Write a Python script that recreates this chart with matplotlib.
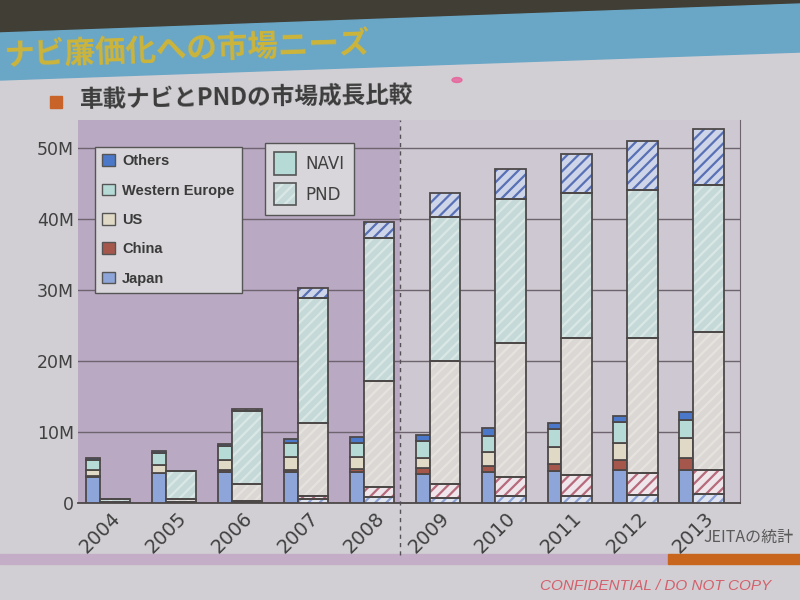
import matplotlib
matplotlib.use("Agg")
import matplotlib.pyplot as plt
import numpy as np
from matplotlib.patches import Patch, Polygon, Rectangle, Ellipse
from matplotlib.legend_handler import HandlerTuple

plt.rcParams['font.family'] = ['DejaVu Sans', 'Noto Sans CJK JP']
plt.rcParams['hatch.linewidth'] = 1.6

years = ['2004', '2005', '2006', '2007', '2008', '2009', '2010', '2011', '2012', '2013']
regions = ['Japan', 'China', 'US', 'Western Europe', 'Others']

# car navigation units (M)
navi_japan = [3.7, 4.2, 4.4, 4.4, 4.4, 4.1, 4.4, 4.5, 4.6, 4.6]
navi_china = [0.1, 0.1, 0.2, 0.3, 0.4, 0.8, 0.85, 1.0, 1.4, 1.7]
navi_us = [0.8, 1.0, 1.5, 1.8, 1.7, 1.5, 2.0, 2.4, 2.4, 2.9]
navi_we = [1.5, 1.7, 1.9, 2.0, 2.0, 2.4, 2.25, 2.5, 3.0, 2.5]
navi_others = [0.3, 0.3, 0.3, 0.5, 0.8, 0.8, 1.1, 0.9, 0.85, 1.1]

# PND units (M)
pnd_japan = [0.05, 0.1, 0.15, 0.6, 0.8, 0.7, 1.0, 1.0, 1.1, 1.3]
pnd_china = [0.0, 0.0, 0.15, 0.4, 1.5, 2.0, 2.7, 3.0, 3.2, 3.4]
pnd_us = [0.15, 0.5, 2.4, 10.3, 14.9, 17.3, 18.9, 19.3, 18.9, 19.4]
pnd_we = [0.35, 3.9, 10.3, 17.6, 20.1, 20.3, 20.3, 20.4, 21.0, 20.8]
pnd_others = [0.0, 0.0, 0.2, 1.4, 2.3, 3.4, 4.2, 5.5, 6.8, 7.9]

yticks = [0, 10, 20, 30, 40, 50]
ylabels = ['0', '10M', '20M', '30M', '40M', '50M']

navi_colors = ['#8da5d9', '#a5574c', '#e0d9c5', '#b6dbd7', '#4b78c9']
pnd_bg = ['#dfe4ef', '#eee6ea', '#dad7d4', '#c6d9d9', '#cfd5e8']
pnd_hatch = ['#8ca2d6', '#b66a7c', '#e6e3de', '#d9e7e5', '#5870b5']
edge = '#4d4848'

fig = plt.figure(figsize=(8, 6), dpi=100)
fig.patch.set_facecolor('#d1cfd3')

# slide decoration in pixel coordinates
bg = fig.add_axes([0, 0, 1, 1], zorder=-10)
bg.set_xlim(0, 800)
bg.set_ylim(600, 0)
bg.axis('off')
bg.add_patch(Polygon([(0, 0), (800, 0), (800, 4), (0, 33)], color='#403e35'))
bg.add_patch(Polygon([(0, 33), (800, 4), (800, 52), (0, 80)], color='#6aa6c6'))
bg.text(4, 55, 'ナビ廉価化への市場ニーズ', fontsize=22, fontweight='bold', color='#cdb53a',
        family=['Noto Sans CJK JP', 'DejaVu Sans'], va='center', ha='left', rotation=2,
        rotation_mode='anchor')
bg.add_patch(Ellipse((457, 80), 10, 5, color='#e8609a', alpha=0.8))
bg.add_patch(Rectangle((50, 96), 12, 12, color='#c8642a'))
bg.text(80, 101, '車載ナビとPNDの市場成長比較', fontsize=17, fontweight='bold', color='#3c3c3c',
        family=['Noto Sans CJK JP', 'DejaVu Sans'], va='center', ha='left', rotation=0.8,
        rotation_mode='anchor')
bg.add_patch(Rectangle((0, 554), 668, 10, color='#c4adc6'))
bg.add_patch(Rectangle((668, 554), 132, 10, color='#c8661e'))
bg.text(703, 537, 'JEITAの統計', fontsize=11.5, color='#5a5a5a',
        family=['Noto Sans CJK JP', 'DejaVu Sans'], va='center', ha='left')
bg.text(540, 586, 'CONFIDENTIAL / DO NOT COPY', fontsize=11, style='italic', color='#d4606c',
        family='Liberation Sans', va='center', ha='left')

# chart
ax = fig.add_axes([78 / 800, 1 - 503 / 600, (740 - 78) / 800, (503 - 120) / 600])
ax.set_facecolor('none')
x = np.arange(len(years))
ax.set_xlim(-0.334, 9.71)
ax.set_ylim(0, 54)
split = 4.55
ax.axvspan(-0.334, split, color='#baa9c3', zorder=0)
ax.axvspan(split, 9.71, color='#cdc8d1', zorder=0)
ax.set_axisbelow(True)
ax.yaxis.grid(True, color='#6d6470', lw=1.0)
ax.plot([split, split], [-0.136, 1], transform=ax.get_xaxis_transform(), clip_on=False,
        ls=(0, (3, 3)), color='#555055', lw=1, zorder=5)

navi = [navi_japan, navi_china, navi_us, navi_we, navi_others]
pnd = [pnd_japan, pnd_china, pnd_us, pnd_we, pnd_others]
w_navi = 0.21
w_pnd = 0.46

bottom = np.zeros(len(years))
for vals, c in zip(navi, navi_colors):
    ax.bar(x - w_navi, vals, w_navi, bottom=bottom, align='edge', color=c,
           edgecolor=edge, linewidth=1.3, zorder=3)
    bottom += np.array(vals)

bottom = np.zeros(len(years))
for vals, fc, hc in zip(pnd, pnd_bg, pnd_hatch):
    ax.bar(x, vals, w_pnd, bottom=bottom, align='edge', color=fc, edgecolor=hc,
           hatch='///', linewidth=0, zorder=3)
    ax.bar(x, vals, w_pnd, bottom=bottom, align='edge', fill=False,
           edgecolor=edge, linewidth=1.3, zorder=4)
    bottom += np.array(vals)

ax.set_yticks(yticks)
ax.set_yticklabels(ylabels)
ax.set_xticks(x)
ax.set_xticklabels(years, rotation=45, ha='center', va='top', fontsize=14)
ax.tick_params(axis='both', length=0, colors='#404040')
ax.tick_params(axis='y', pad=3, labelsize=12.5)
ax.tick_params(axis='x', pad=4)
for s in ['top', 'left']:
    ax.spines[s].set_visible(False)
ax.spines['bottom'].set_color('#4d4848')
ax.spines['bottom'].set_linewidth(1.3)
ax.spines['right'].set_color('#6d6470')

# region legend
handles = [Patch(facecolor=c, edgecolor='#555555', linewidth=1) for c in navi_colors[::-1]]
leg1 = fig.legend(handles, regions[::-1], loc='upper left',
                  bbox_to_anchor=(95 / 800, 1 - 147 / 600), borderaxespad=0,
                  prop=dict(family='Liberation Sans', weight='bold', size=10.5),
                  handlelength=0.85, handleheight=0.85, handletextpad=0.5,
                  labelspacing=1.05, borderpad=0.5, fancybox=False, framealpha=1,
                  facecolor='#d8d6da', edgecolor='#555555', labelcolor='#3a3a3a')

# type legend
h_navi = Patch(facecolor=navi_colors[3], edgecolor='#555555', linewidth=1.2)
h_pnd = (Patch(facecolor=pnd_bg[3], edgecolor=pnd_hatch[3], hatch='///', linewidth=0),
         Patch(fill=False, edgecolor='#555555', linewidth=1.2))
leg2 = fig.legend([h_navi, h_pnd], ['NAVI', 'PND'], loc='upper left',
                  bbox_to_anchor=(265 / 800, 1 - 143 / 600), borderaxespad=0,
                  handler_map={tuple: HandlerTuple(ndivide=1)},
                  prop=dict(family='DejaVu Sans', size=12),
                  handlelength=1.3, handleheight=1.7, handletextpad=0.6,
                  labelspacing=0.5, borderpad=0.55, fancybox=False, framealpha=1,
                  facecolor='#d8d6da', edgecolor='#555555', labelcolor='#404040')

fig.savefig('out.png', dpi=100)
